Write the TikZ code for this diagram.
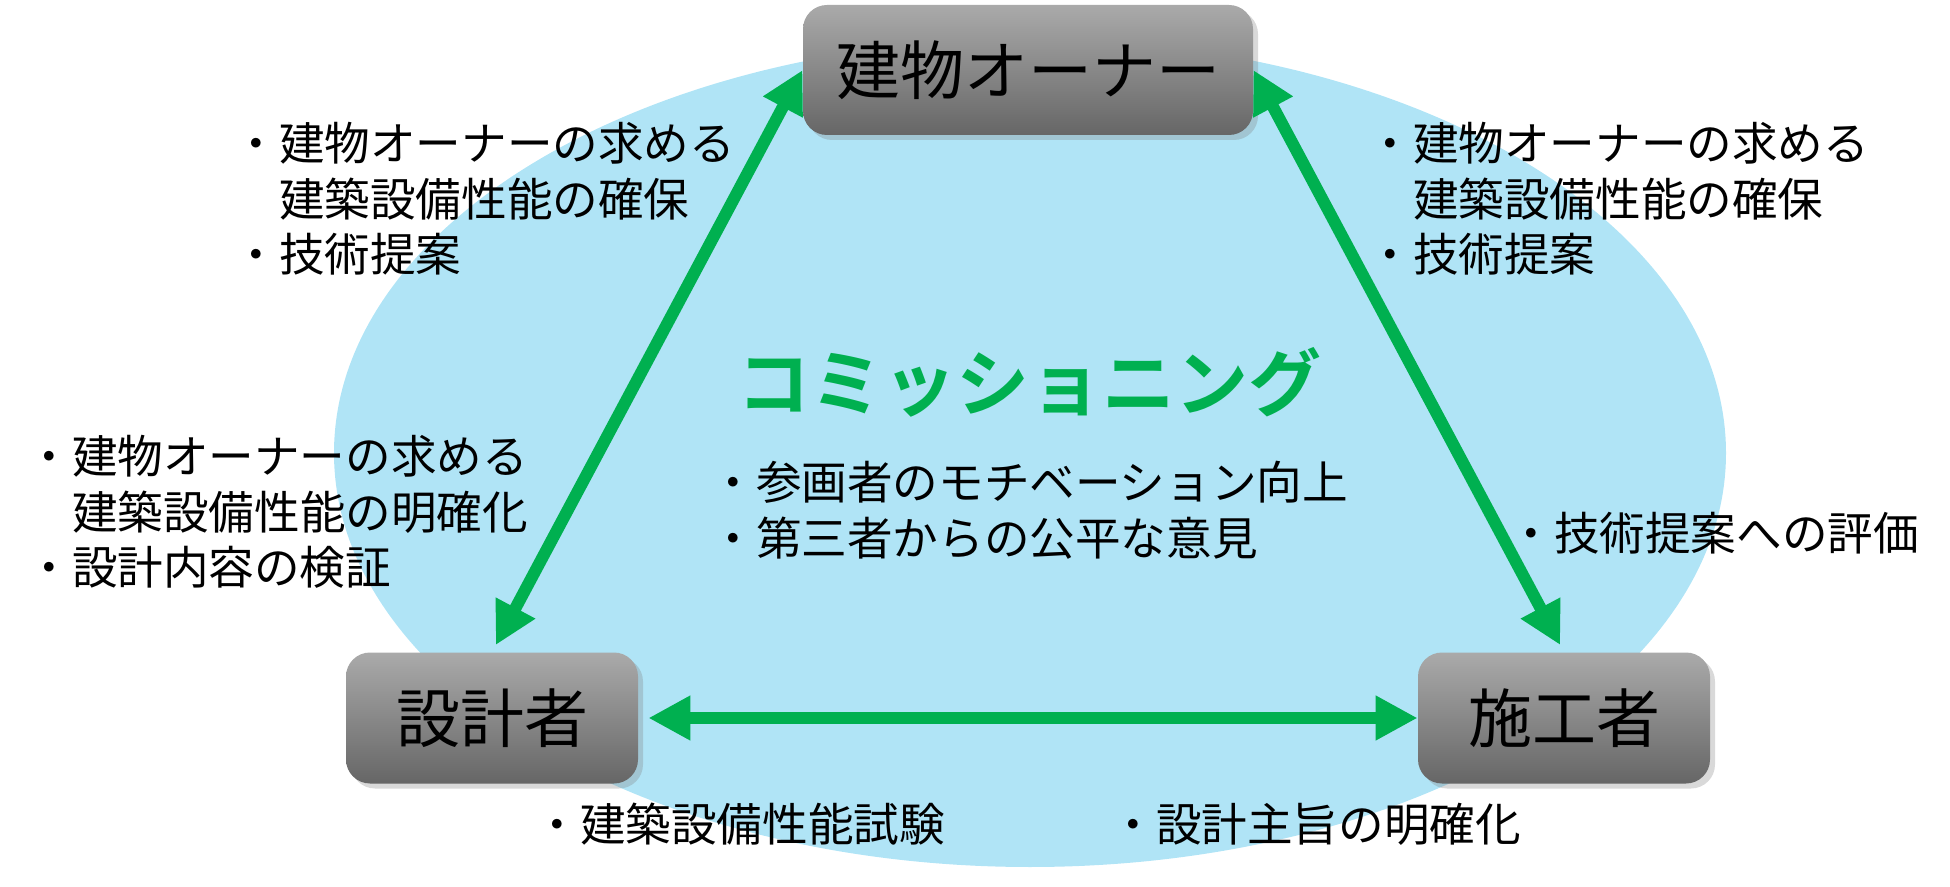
\documentclass[tikz,border=0pt]{standalone}
\usepackage{fontspec}
\setmainfont{Noto Sans CJK JP}[BoldFont={Noto Sans CJK JP Bold}]
\usepackage{tikz}
\usetikzlibrary{arrows.meta, positioning, shadows}
\definecolor{ovalblue}{RGB}{176,228,246}
\definecolor{arrowgreen}{RGB}{0,176,80}
\definecolor{boxtop}{RGB}{170,170,170}
\definecolor{boxbot}{RGB}{102,102,102}

\begin{document}
\begin{tikzpicture}[x=0.5pt, y=-0.5pt,
  role/.style={rounded corners=12pt, top color=boxtop, bottom color=boxbot, inner sep=0pt,
    drop shadow={shadow xshift=2.5pt, shadow yshift=-2.5pt, opacity=0.3},
    font=\fontsize{32}{36}\selectfont},
  note/.style={align=left, anchor=west, inner sep=0pt, font=\fontsize{22.8}{27.8}\selectfont},
  biarrow/.style={arrowgreen, line width=6pt,
    {Triangle[length=21pt,width=21pt]}-{Triangle[length=21pt,width=21pt]}}]
  \useasboundingbox (0,0) rectangle (1950,887);
  % background oval
  \fill[ovalblue] (1030,453) ellipse [x radius=348pt, y radius=207pt];
  % the three parties
  \node[role, minimum width=225pt, minimum height=65pt] (owner) at (1028,70) {建物オーナー};
  \node[role, minimum width=146pt, minimum height=65.5pt] (designer) at (492,718) {設計者};
  \node[role, minimum width=146pt, minimum height=65.5pt] (builder) at (1564,718) {施工者};
  % relations
  \draw[biarrow, shorten <=4pt] (designer.north) -- (owner.west);
  \draw[biarrow, shorten <=4pt] (builder.north) -- (owner.east);
  \draw[biarrow, shorten <=5pt] (designer.east) -- (builder.west);
  % title and notes
  \node[arrowgreen, font=\fontsize{36.5}{40}\selectfont\bfseries] (comm) at (1029,382) {コミッショニング};
  \node[note] (commnote) at (710,510) {・参画者のモチベーション向上\\・第三者からの公平な意見};
  \node[note] (ownerdesign) at (233,199) {・建物オーナーの求める\\\phantom{・}建築設備性能の確保\\・技術提案};
  \node[note] (ownerbuild) at (1367,199) {・建物オーナーの求める\\\phantom{・}建築設備性能の確保\\・技術提案};
  \node[note] (designnote) at (26,512) {・建物オーナーの求める\\\phantom{・}建築設備性能の明確化\\・設計内容の検証};
  \node[note] (buildnote) at (1508,533) {・技術提案への評価};
  \node[note] (testnote) at (534,824) {・建築設備性能試験};
  \node[note] (intentnote) at (1110,824) {・設計主旨の明確化};
\end{tikzpicture}
\end{document}
